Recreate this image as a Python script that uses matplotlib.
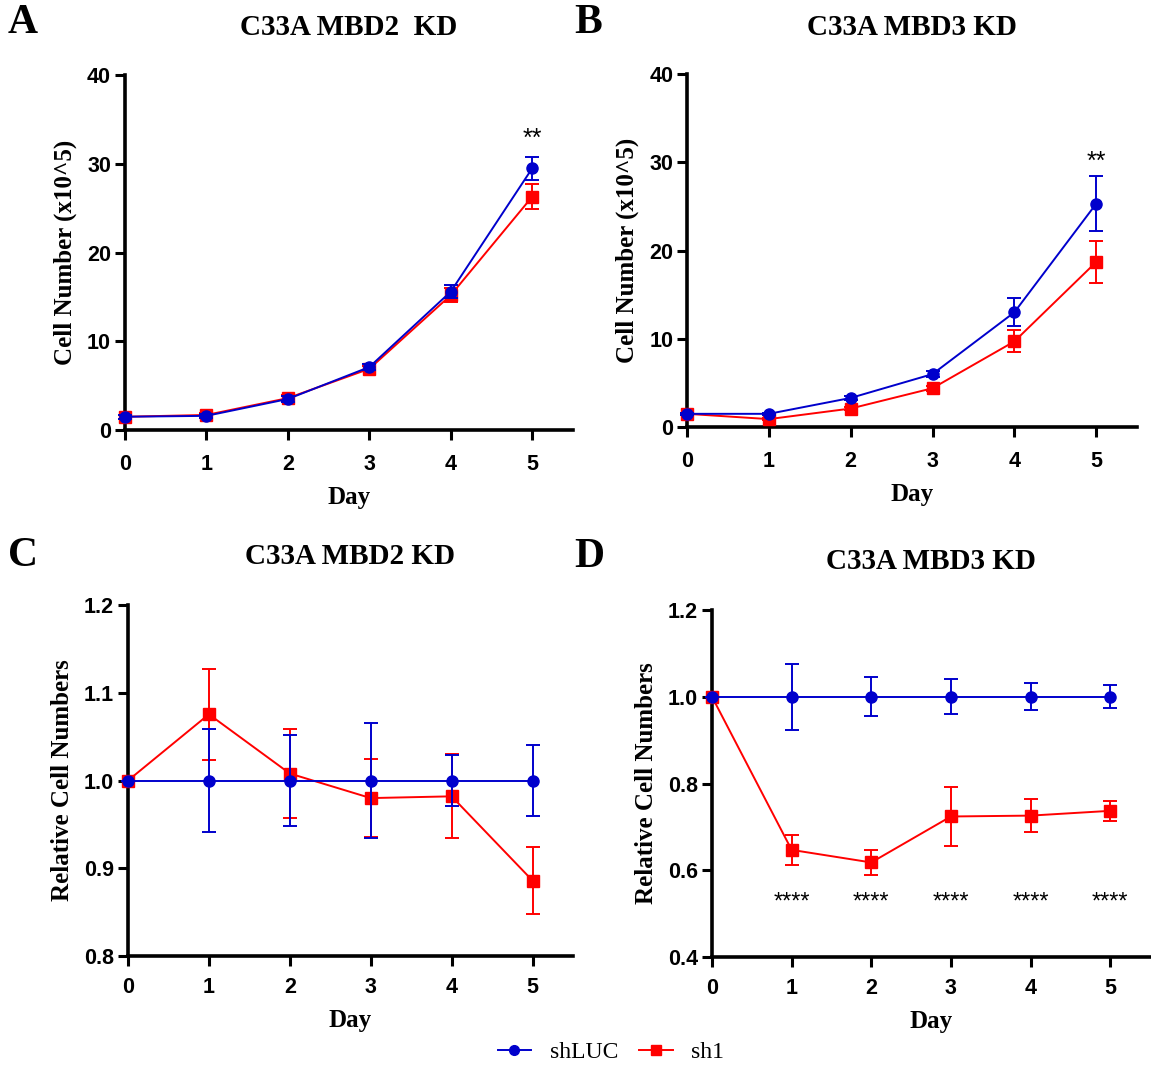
import matplotlib
matplotlib.use("Agg")
import matplotlib.pyplot as plt
from matplotlib.lines import Line2D
import numpy as np

days = [0, 1, 2, 3, 4, 5]

# Panel A: C33A MBD2 KD, cell number (x10^5)
a_shluc = [1.5, 1.6, 3.5, 7.1, 15.6, 29.5]
a_shluc_err = [0.2, 0.2, 0.3, 0.3, 0.7, 1.3]
a_sh1 = [1.5, 1.7, 3.6, 6.9, 15.2, 26.3]
a_sh1_err = [0.2, 0.2, 0.3, 0.3, 0.8, 1.4]

# Panel B: C33A MBD3 KD, cell number (x10^5)
b_shluc = [1.5, 1.5, 3.3, 6.0, 13.0, 25.3]
b_shluc_err = [0.1, 0.1, 0.2, 0.3, 1.6, 3.1]
b_sh1 = [1.5, 0.9, 2.1, 4.4, 9.7, 18.7]
b_sh1_err = [0.1, 0.1, 0.2, 0.3, 1.25, 2.35]

# Panel C: C33A MBD2 KD, relative cell numbers
c_shluc = [1.0, 1.0, 1.0, 1.0, 1.0, 1.0]
c_shluc_err = [0.0, 0.059, 0.052, 0.065, 0.029, 0.040]
c_sh1 = [1.0, 1.0755, 1.008, 0.980, 0.982, 0.886]
c_sh1_err = [0.0, 0.052, 0.051, 0.044, 0.048, 0.038]

# Panel D: C33A MBD3 KD, relative cell numbers
d_shluc = [1.0, 1.0, 1.0, 1.0, 1.0, 1.0]
d_shluc_err = [0.0, 0.076, 0.045, 0.040, 0.031, 0.027]
d_sh1 = [1.0, 0.647, 0.618, 0.724, 0.726, 0.737]
d_sh1_err = [0.0, 0.034, 0.029, 0.069, 0.038, 0.023]

titles = ["C33A MBD2  KD", "C33A MBD3 KD", "C33A MBD2 KD", "C33A MBD3 KD"]
letters = ["A", "B", "C", "D"]
ylabels = ["Cell Number (x10^5)", "Cell Number (x10^5)",
           "Relative Cell Numbers", "Relative Cell Numbers"]
series_labels = ["shLUC", "sh1"]

BLUE = "#0000CC"
RED = "#FF0000"
SERIF = "Liberation Serif"
SANS = "Liberation Sans"

fig = plt.figure(figsize=(11.51, 10.65), dpi=100)

positions = [
    (0.1086, 0.5962, 0.3892, 0.3333),
    (0.5969, 0.5990, 0.3910, 0.3315),
    (0.1112, 0.1023, 0.3866, 0.3296),
    (0.6186, 0.1014, 0.3805, 0.3258),
]
ylims = [(0, 40), (0, 40), (0.8, 1.2), (0.4, 1.2)]
yticks = [[0, 10, 20, 30, 40], [0, 10, 20, 30, 40],
          [0.8, 0.9, 1.0, 1.1, 1.2], [0.4, 0.6, 0.8, 1.0, 1.2]]
yfmt = ["{:.0f}", "{:.0f}", "{:.1f}", "{:.1f}"]
data = [
    (a_shluc, a_shluc_err, a_sh1, a_sh1_err),
    (b_shluc, b_shluc_err, b_sh1, b_sh1_err),
    (c_shluc, c_shluc_err, c_sh1, c_sh1_err),
    (d_shluc, d_shluc_err, d_sh1, d_sh1_err),
]
letter_pos = [(0.007, 0.978), (0.499, 0.978), (0.007, 0.478), (0.499, 0.477)]
title_y = [0.974, 0.974, 0.477, 0.473]
xpads = [10, 10, 8, 8]

for i in range(4):
    ax = fig.add_axes(positions[i])
    blue, blue_err, red, red_err = data[i]
    ax.errorbar(days, red, yerr=red_err, color=RED, marker="s", markersize=8,
                linewidth=1.4, elinewidth=1.4, capsize=5, capthick=1.4,
                clip_on=False, zorder=3)
    ax.errorbar(days, blue, yerr=blue_err, color=BLUE, marker="o", markersize=8,
                linewidth=1.4, elinewidth=1.4, capsize=5, capthick=1.4,
                clip_on=False, zorder=4)
    ax.set_xlim(0, 5.5)
    ax.set_ylim(*ylims[i])
    ax.set_xticks(days)
    ax.set_xticklabels([str(d) for d in days])
    ax.set_yticks(yticks[i])
    ax.set_yticklabels([yfmt[i].format(v) for v in yticks[i]])
    for sp in ["top", "right"]:
        ax.spines[sp].set_visible(False)
    for sp in ["left", "bottom"]:
        ax.spines[sp].set_linewidth(2.6)
    ax.tick_params(axis="y", direction="out", length=7, width=2.2, pad=3)
    ax.tick_params(axis="x", direction="out", length=7, width=2.2, pad=xpads[i])
    for lab in ax.get_xticklabels() + ax.get_yticklabels():
        lab.set_fontfamily(SANS)
        lab.set_fontweight("bold")
        lab.set_fontsize(15.5)
    ax.set_xlabel("Day", fontfamily=SERIF, fontweight="bold", fontsize=18, labelpad=8)
    ax.set_ylabel(ylabels[i], fontfamily=SERIF, fontweight="bold", fontsize=18, labelpad=7)
    ax.set_facecolor("none")
    cx = positions[i][0] + positions[i][2] * 0.5
    fig.text(cx, title_y[i], titles[i], ha="center", va="center",
             fontfamily=SERIF, fontweight="bold", fontsize=21)
    fig.text(letter_pos[i][0], letter_pos[i][1], letters[i], ha="left", va="center",
             fontfamily=SERIF, fontweight="bold", fontsize=30)

    if i == 0:
        ax.text(5, 32.8, "**", ha="center", va="center", fontsize=18, fontfamily=SANS)
    if i == 1:
        ax.text(5, 30.0, "**", ha="center", va="center", fontsize=18, fontfamily=SANS)
    if i == 3:
        for d in days[1:]:
            ax.text(d, 0.525, "****", ha="center", va="center", fontsize=17, fontfamily=SANS)

handles = [
    Line2D([0], [0], color=BLUE, marker="o", markersize=7, linewidth=1.4),
    Line2D([0], [0], color=RED, marker="s", markersize=7, linewidth=1.4),
]
fig.legend(handles, series_labels, loc="center", bbox_to_anchor=(0.531, 0.012),
           ncol=2, frameon=False, handlelength=1.4, handletextpad=0.8,
           columnspacing=0.9, prop={"family": SERIF, "size": 17})

fig.savefig("out.png", dpi=100)
